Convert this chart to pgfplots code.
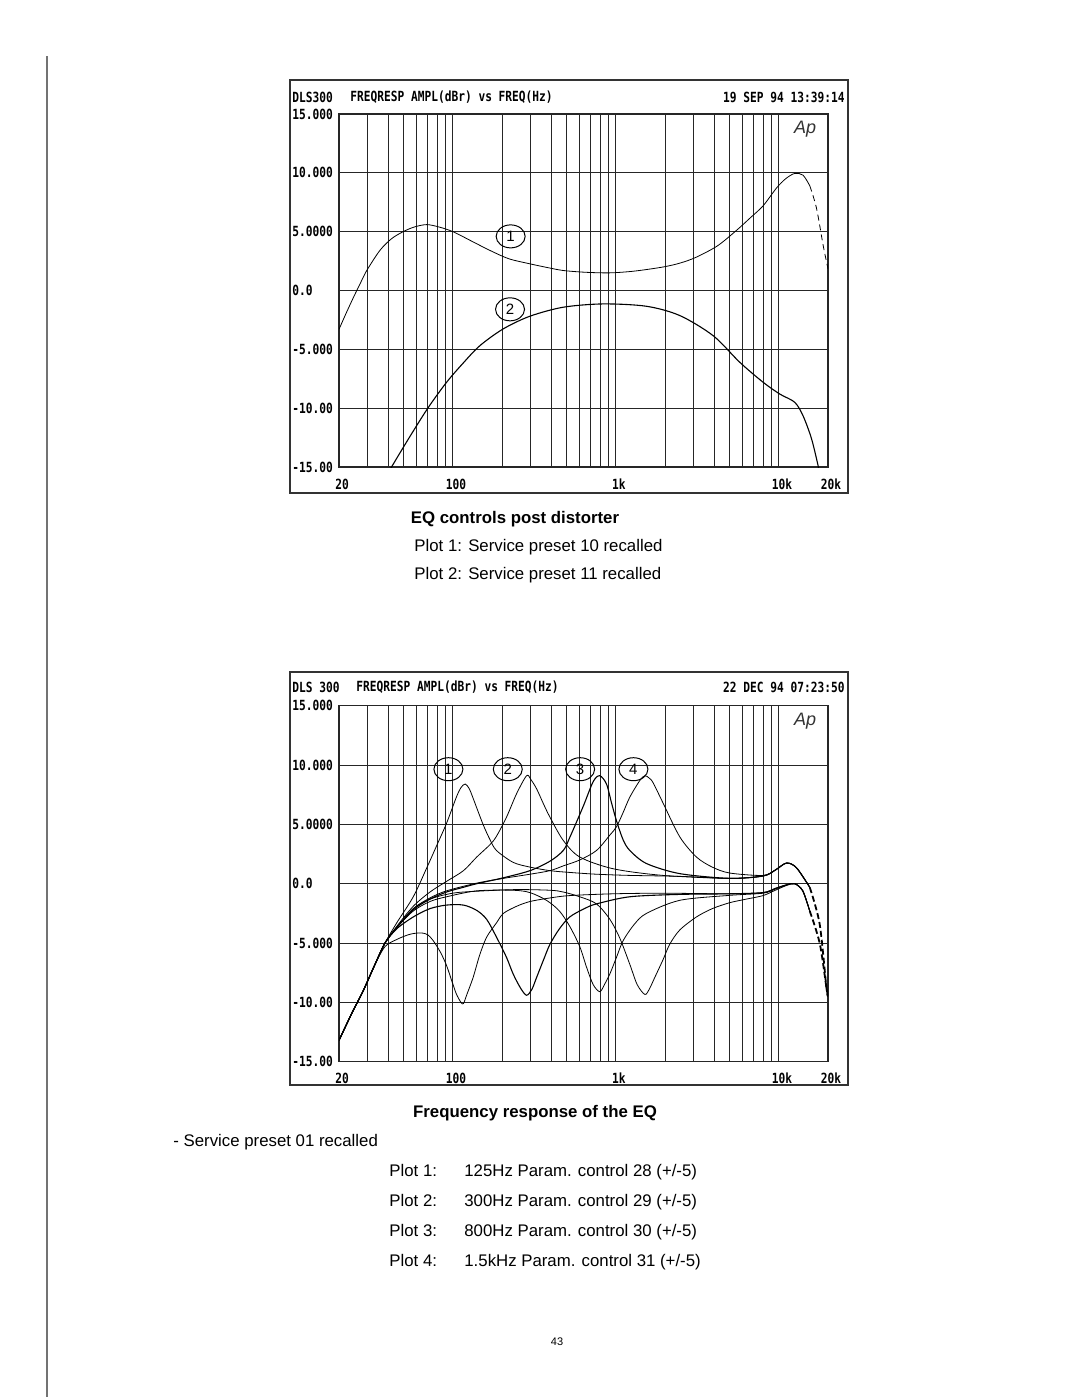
\documentclass[border=0pt]{standalone}
\usepackage{pgfplots}
\pgfplotsset{compat=1.18}
\usepackage{graphicx}
\usepackage{fontspec}
\setmainfont{Liberation Sans}
\newfontfamily\plotfont{DejaVu Sans Mono}
\usetikzlibrary{shapes.geometric}
\newcommand{\pf}[1]{{\plotfont\bfseries\fontsize{7}{8}\selectfont\scalebox{0.8}[1]{#1}}}
\tikzset{num/.style={draw, ellipse, inner sep=0pt, minimum width=14.5pt, minimum height=11.5pt, line width=0.5pt, font=\fontsize{7.5}{8}\selectfont},
  txt/.style={anchor=base west, inner sep=0pt, font=\fontsize{8.4}{10}\selectfont}}
\pgfplotsset{every axis/.append style={
  xmode=log, xmin=20, xmax=20000, ymin=-15, ymax=15,
  scale only axis, width=244.5pt,
  xtick={20,100,1000,10000,20000},
  xticklabels={\pf{20},\pf{100},\pf{1k},\pf{10k},\pf{20k}},
  minor xtick={30,40,50,60,70,80,90,200,300,400,500,600,700,800,900,2000,3000,4000,5000,6000,7000,8000,9000},
  ytick={-15,-10,-5,0,5,10,15},
  yticklabels={\pf{-15.00},\pf{-10.00},\pf{-5.000},\pf{0.0},\pf{5.0000},\pf{10.000},\pf{15.000}},
  grid=both,
  major grid style={black!85, line width=0.5pt},
  minor grid style={black!85, line width=0.5pt},
  major tick length=0pt, minor tick length=0pt,
  axis line style={black!85, line width=0.6pt},
  yticklabel style={anchor=west, inner sep=0pt, xshift=-23.5pt},
  xticklabel style={anchor=base, inner sep=0pt, yshift=-11pt, xshift=1.5pt},
  cycle list={{black, mark=none, line width=0.55pt}},
}}
\pgfplotsset{every axis plot/.append style={smooth, tension=0.5}}
\begin{document}
\begin{tikzpicture}
\path[use as bounding box, fill=white] (0pt,0pt) rectangle (540pt,-698.5pt);
\draw[black!55, line width=0.8pt] (23.5pt,-28pt) -- (23.5pt,-698.5pt);
% frames
\draw[black!80, line width=0.6pt] (145pt,-40pt) rectangle (424pt,-246.5pt);
\draw[black!80, line width=0.6pt] (145pt,-336pt) rectangle (424pt,-542.5pt);
% headers
\node[anchor=west, inner sep=0pt] at (146pt,-48.5pt) {\pf{DLS300}};
\node[anchor=west, inner sep=0pt] at (175pt,-48.5pt) {\pf{FREQRESP AMPL(dBr) vs FREQ(Hz)}};
\node[anchor=east, inner sep=0pt] at (422.5pt,-48.5pt) {\pf{19 SEP 94 13:39:14}};
\node[anchor=west, inner sep=0pt] at (146pt,-343.5pt) {\pf{DLS 300}};
\node[anchor=west, inner sep=0pt] at (178pt,-343.5pt) {\pf{FREQRESP AMPL(dBr) vs FREQ(Hz)}};
\node[anchor=east, inner sep=0pt] at (422.5pt,-343.5pt) {\pf{22 DEC 94 07:23:50}};

% ---------- top chart ----------
\begin{axis}[at={(169.5pt,-233.5pt)}, anchor=south west, height=176.5pt]
\addplot coordinates {(20,-3.3)(22,-2.0)(24.5,-0.6)(27,0.6)(29.6,1.7)(35.6,3.4)(42,4.4)(49.5,5.0)(58,5.4)(69,5.6)(82,5.4)(100,5.0)(130,4.2)(169,3.4)(220,2.7)(296,2.27)(380,1.95)(475,1.7)(650,1.55)(918,1.5)(1300,1.65)(1950,2.0)(2500,2.35)(3120,2.84)(4200,3.8)(5480,5.1)(6700,6.2)(8000,7.2)(9650,8.7)(11000,9.5)(12500,9.95)(14060,9.8)(15460,8.9)};
\addplot+[dash pattern=on 3pt off 2pt] coordinates {(15460,8.9)(17000,7.0)(18700,3.8)(20000,1.85)};
\addplot coordinates {(41,-15.3)(42,-15)(54.5,-12.4)(70.6,-9.94)(91.4,-7.8)(115,-6.2)(146,-4.7)(203,-3.27)(296,-2.19)(475,-1.42)(836,-1.14)(1540,-1.34)(2466,-2.13)(3950,-3.84)(5750,-6.1)(8000,-7.8)(10120,-8.8)(12500,-9.5)(14060,-10.65)(15850,-12.6)(17400,-14.9)(17600,-15.3)};
\node[num] at (axis cs:226,4.6) {1};
\node[num] at (axis cs:224,-1.6) {2};
\node[font=\itshape\fontsize{9}{9}\selectfont, text=black!80] at (axis cs:14500,13.7) {Ap};
\end{axis}

\node[anchor=base, inner sep=0pt, font=\bfseries\fontsize{8.4}{10}\selectfont] at (257.5pt,-261.5pt) {EQ controls post distorter};
\node[txt] at (207pt,-275.5pt) {Plot 1: Service preset 10 recalled};
\node[txt] at (207pt,-289.5pt) {Plot 2: Service preset 11 recalled};

% ---------- bottom chart ----------
\begin{axis}[at={(169.5pt,-530.85pt)}, anchor=south west, height=178pt]
% boost 1
\addplot coordinates {(20,-13.2)(24,-10.9)(28.2,-9.0)(33,-6.9)(38.3,-5.0)(45.2,-3.3)(57.1,-1.1)(68.9,1.3)(80,3.3)(91.4,5.1)(105,7.3)(112,8.1)(119,8.4)(126,8.0)(133,7.2)(153,5.0)(169,3.7)(185,2.8)(234,1.8)(297,1.4)(394,1.1)(521,0.95)(760,0.8)(1217,0.7)(2464,0.62)(4990,0.45)(7993,0.65)(9500,1.15)(11120,1.74)(12800,1.35)(15450,-0.3)};
% boost 2
\addplot coordinates {(20,-13.2)(24,-10.9)(28.2,-9.0)(33,-6.9)(38.3,-5.0)(45.2,-3.6)(57.1,-1.9)(72.3,-0.7)(91.4,0.2)(116,1.1)(140,2.25)(169,3.3)(185,4.0)(213,5.6)(246,7.6)(283,9.1)(300,8.8)(326,8.0)(360,6.7)(394,5.6)(475,3.65)(600,2.25)(962,1.26)(1946,0.7)(4990,0.45)(7993,0.65)(9500,1.15)(11120,1.74)(12800,1.35)(15450,-0.3)};
% boost 3
\addplot coordinates {(20,-13.2)(24,-10.9)(28.2,-9.0)(33,-6.9)(38.3,-5.0)(45.2,-3.7)(57.1,-2.2)(72.3,-1.3)(91.4,-0.7)(116,-0.3)(140,0)(204,0.5)(297,1.1)(394,1.9)(475,2.8)(521,3.9)(629,6.5)(725,8.6)(796,9.1)(875,8.4)(940,6.8)(1008,5.3)(1107,3.7)(1217,2.8)(1540,1.7)(2464,0.85)(4990,0.45)(7993,0.65)(9500,1.15)(11120,1.74)(12800,1.35)(15450,-0.3)};
% boost 4
\addplot coordinates {(20,-13.2)(24,-10.9)(28.2,-9.0)(33,-6.9)(38.3,-5.0)(45.2,-3.7)(57.1,-2.1)(72.3,-1.2)(91.4,-0.6)(140,0.05)(204,0.45)(297,0.8)(394,1.1)(475,1.5)(600,2.0)(760,2.8)(918,4.1)(1008,4.8)(1107,6.0)(1217,7.3)(1402,8.7)(1504,9.1)(1600,8.9)(1692,8.5)(1946,6.8)(2464,3.95)(3119,2.25)(3900,1.4)(4990,0.9)(7993,0.7)(9500,1.15)(11120,1.74)(12800,1.35)(15450,-0.3)};
% cut 1
\addplot coordinates {(20,-13.2)(24,-10.9)(28.2,-9.0)(33,-6.9)(38.3,-5.3)(45.2,-4.7)(52,-4.35)(57.1,-4.2)(64.3,-4.15)(70,-4.3)(75.7,-4.8)(84,-5.8)(91.4,-6.9)(99,-8.3)(105,-9.3)(112,-10.0)(116,-10.1)(122,-9.3)(133,-7.9)(146,-6.0)(161,-4.5)(185,-3.3)(204,-2.5)(246,-1.9)(297,-1.5)(394,-1.2)(521,-1.0)(962,-0.85)(1946,-0.8)(4990,-0.85)(7993,-0.75)(9500,-0.4)(11120,-0.1)(12500,0.0)(14000,-0.6)(15450,-2.3)};
% cut 2
\addplot coordinates {(20,-13.2)(24,-10.9)(28.2,-9.0)(33,-6.9)(38.3,-5.0)(45.2,-3.8)(57.1,-2.8)(72.3,-2.1)(91.4,-1.8)(116,-1.8)(140,-2.25)(161,-3.0)(185,-4.5)(213,-6.2)(234,-7.6)(260,-8.8)(283,-9.4)(305,-8.9)(326,-7.9)(360,-6.4)(394,-5.1)(450,-3.8)(521,-2.8)(640,-2.1)(760,-1.7)(1217,-1.1)(2464,-0.9)(4990,-0.85)(7993,-0.75)(9500,-0.4)(11120,-0.1)(12500,0.0)(14000,-0.6)(15450,-2.3)};
% cut 3
\addplot coordinates {(20,-13.2)(24,-10.9)(28.2,-9.0)(33,-6.9)(38.3,-5.0)(45.2,-3.7)(57.1,-2.3)(72.3,-1.5)(91.4,-1.1)(140,-0.6)(234,-0.55)(297,-0.75)(375,-1.4)(450,-2.3)(521,-3.6)(600,-5.3)(659,-7.0)(725,-8.5)(796,-9.1)(850,-8.5)(918,-7.6)(1008,-6.2)(1107,-4.8)(1300,-3.4)(1540,-2.5)(2464,-1.4)(4990,-0.98)(7993,-0.8)(9500,-0.45)(11120,-0.1)(12500,0.0)(14000,-0.6)(15450,-2.3)};
% cut 4
\addplot coordinates {(20,-13.2)(24,-10.9)(28.2,-9.0)(33,-6.9)(38.3,-5.0)(45.2,-3.7)(57.1,-2.1)(72.3,-1.3)(91.4,-0.9)(116,-0.7)(234,-0.5)(394,-0.55)(475,-0.7)(600,-1.1)(760,-1.7)(918,-3.0)(1057,-4.6)(1217,-6.8)(1350,-8.5)(1504,-9.33)(1600,-8.9)(1731,-7.9)(1946,-6.4)(2138,-5.1)(2464,-3.9)(3119,-2.8)(3900,-2.1)(4990,-1.6)(6300,-1.3)(7993,-1.0)(9500,-0.55)(11120,-0.15)(12500,0.0)(14000,-0.6)(15450,-2.3)};
% dashed tails
\addplot+[dash pattern=on 3pt off 1.5pt, line width=0.9pt] coordinates {(15450,-0.3)(17780,-3.4)(19540,-8.7)(20000,-9.5)};
\addplot+[dash pattern=on 3pt off 1.5pt, line width=0.9pt] coordinates {(15450,-2.3)(17780,-5.0)(19540,-8.7)(20000,-9.5)};
\node[num] at (axis cs:93.8,9.65) {1};
\node[num] at (axis cs:217,9.65) {2};
\node[num] at (axis cs:603,9.65) {3};
\node[num] at (axis cs:1280,9.65) {4};
\node[font=\itshape\fontsize{9}{9}\selectfont, text=black!80] at (axis cs:14500,13.7) {Ap};
\end{axis}

\node[anchor=base, inner sep=0pt, font=\bfseries\fontsize{8.4}{10}\selectfont] at (267.5pt,-558.5pt) {Frequency response of the EQ};
\node[txt] at (86.5pt,-573pt) {- Service preset 01 recalled};
\node[txt] at (194.5pt,-588pt) {Plot 1:};
\node[txt] at (232pt,-588pt) {125Hz Param. control 28 (+/-5)};
\node[txt] at (194.5pt,-603pt) {Plot 2:};
\node[txt] at (232pt,-603pt) {300Hz Param. control 29 (+/-5)};
\node[txt] at (194.5pt,-618pt) {Plot 3:};
\node[txt] at (232pt,-618pt) {800Hz Param. control 30 (+/-5)};
\node[txt] at (194.5pt,-633pt) {Plot 4:};
\node[txt] at (232pt,-633pt) {1.5kHz Param. control 31 (+/-5)};
\node[font=\fontsize{5.5}{6}\selectfont] at (278.5pt,-671pt) {43};
\end{tikzpicture}
\end{document}
